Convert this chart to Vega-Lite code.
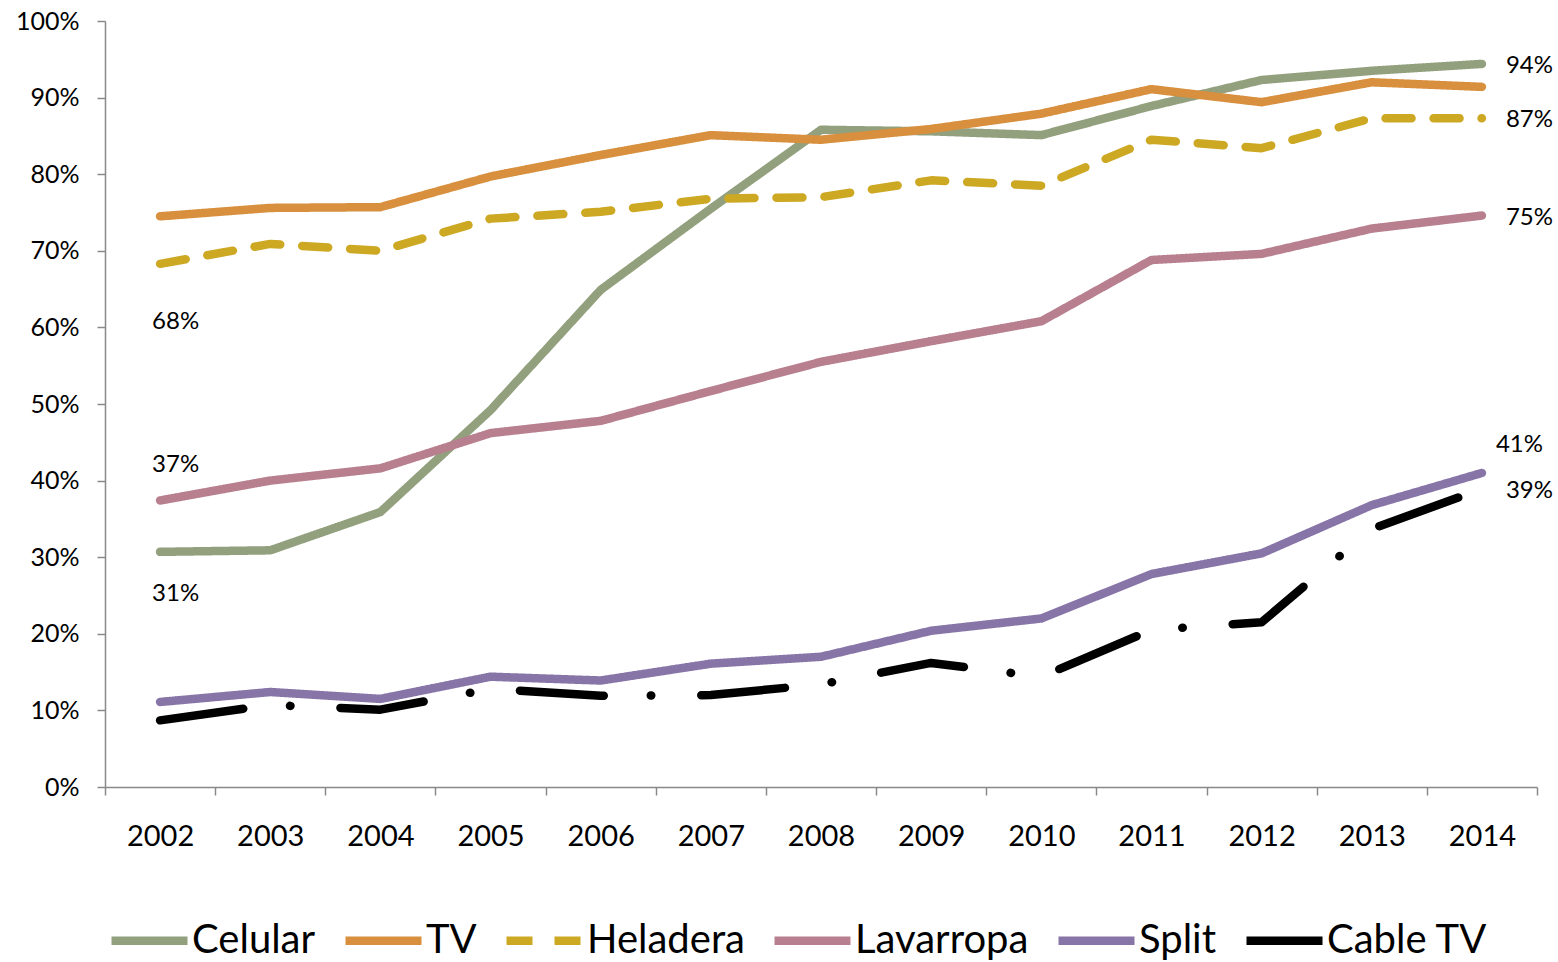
{
  "$schema": "https://vega.github.io/schema/vega-lite/v6.json",
  "width": 1432,
  "height": 766,
  "autosize": {"type": "none"},
  "padding": {"left": 105, "top": 21, "right": 21, "bottom": 175},
  "background": "white",
  "config": {"view": {"stroke": null}, "font": "Lato"},
  "datasets": {
    "series": [
      {"series": "Celular", "year": 2002, "value": 30.7},
      {"series": "Celular", "year": 2003, "value": 30.9},
      {"series": "Celular", "year": 2004, "value": 35.9},
      {"series": "Celular", "year": 2005, "value": 49.2},
      {"series": "Celular", "year": 2006, "value": 64.9},
      {"series": "Celular", "year": 2007, "value": 75.5},
      {"series": "Celular", "year": 2008, "value": 85.8},
      {"series": "Celular", "year": 2009, "value": 85.6},
      {"series": "Celular", "year": 2010, "value": 85.1},
      {"series": "Celular", "year": 2011, "value": 88.9},
      {"series": "Celular", "year": 2012, "value": 92.3},
      {"series": "Celular", "year": 2013, "value": 93.5},
      {"series": "Celular", "year": 2014, "value": 94.4},
      {"series": "TV", "year": 2002, "value": 74.5},
      {"series": "TV", "year": 2003, "value": 75.6},
      {"series": "TV", "year": 2004, "value": 75.7},
      {"series": "TV", "year": 2005, "value": 79.7},
      {"series": "TV", "year": 2006, "value": 82.5},
      {"series": "TV", "year": 2007, "value": 85.1},
      {"series": "TV", "year": 2008, "value": 84.5},
      {"series": "TV", "year": 2009, "value": 85.9},
      {"series": "TV", "year": 2010, "value": 87.9},
      {"series": "TV", "year": 2011, "value": 91.1},
      {"series": "TV", "year": 2012, "value": 89.4},
      {"series": "TV", "year": 2013, "value": 92.0},
      {"series": "TV", "year": 2014, "value": 91.4},
      {"series": "Heladera", "year": 2002, "value": 68.3},
      {"series": "Heladera", "year": 2003, "value": 70.9},
      {"series": "Heladera", "year": 2004, "value": 70.0},
      {"series": "Heladera", "year": 2005, "value": 74.2},
      {"series": "Heladera", "year": 2006, "value": 75.1},
      {"series": "Heladera", "year": 2007, "value": 76.8},
      {"series": "Heladera", "year": 2008, "value": 77.0},
      {"series": "Heladera", "year": 2009, "value": 79.2},
      {"series": "Heladera", "year": 2010, "value": 78.5},
      {"series": "Heladera", "year": 2011, "value": 84.5},
      {"series": "Heladera", "year": 2012, "value": 83.4},
      {"series": "Heladera", "year": 2013, "value": 87.3},
      {"series": "Heladera", "year": 2014, "value": 87.3},
      {"series": "Lavarropa", "year": 2002, "value": 37.4},
      {"series": "Lavarropa", "year": 2003, "value": 40.0},
      {"series": "Lavarropa", "year": 2004, "value": 41.6},
      {"series": "Lavarropa", "year": 2005, "value": 46.2},
      {"series": "Lavarropa", "year": 2006, "value": 47.8},
      {"series": "Lavarropa", "year": 2007, "value": 51.7},
      {"series": "Lavarropa", "year": 2008, "value": 55.5},
      {"series": "Lavarropa", "year": 2009, "value": 58.2},
      {"series": "Lavarropa", "year": 2010, "value": 60.8},
      {"series": "Lavarropa", "year": 2011, "value": 68.8},
      {"series": "Lavarropa", "year": 2012, "value": 69.6},
      {"series": "Lavarropa", "year": 2013, "value": 72.9},
      {"series": "Lavarropa", "year": 2014, "value": 74.6},
      {"series": "Split", "year": 2002, "value": 11.1},
      {"series": "Split", "year": 2003, "value": 12.4},
      {"series": "Split", "year": 2004, "value": 11.5},
      {"series": "Split", "year": 2005, "value": 14.4},
      {"series": "Split", "year": 2006, "value": 13.9},
      {"series": "Split", "year": 2007, "value": 16.1},
      {"series": "Split", "year": 2008, "value": 17.0},
      {"series": "Split", "year": 2009, "value": 20.4},
      {"series": "Split", "year": 2010, "value": 22.0},
      {"series": "Split", "year": 2011, "value": 27.8},
      {"series": "Split", "year": 2012, "value": 30.5},
      {"series": "Split", "year": 2013, "value": 36.8},
      {"series": "Split", "year": 2014, "value": 41.0},
      {"series": "Cable TV", "year": 2002, "value": 8.7},
      {"series": "Cable TV", "year": 2003, "value": 10.7},
      {"series": "Cable TV", "year": 2004, "value": 10.1},
      {"series": "Cable TV", "year": 2005, "value": 12.8},
      {"series": "Cable TV", "year": 2006, "value": 11.9},
      {"series": "Cable TV", "year": 2007, "value": 12.0},
      {"series": "Cable TV", "year": 2008, "value": 13.4},
      {"series": "Cable TV", "year": 2009, "value": 16.2},
      {"series": "Cable TV", "year": 2010, "value": 14.4},
      {"series": "Cable TV", "year": 2011, "value": 20.5},
      {"series": "Cable TV", "year": 2012, "value": 21.5},
      {"series": "Cable TV", "year": 2013, "value": 33.7},
      {"series": "Cable TV", "year": 2014, "value": 38.9}
    ],
    "labels": [
      {"series": "Celular", "year": 2014, "value": 94.4, "label": "94%"},
      {"series": "Heladera", "year": 2014, "value": 87.3, "label": "87%"},
      {"series": "Lavarropa", "year": 2014, "value": 74.6, "label": "75%"},
      {"series": "Cable TV", "year": 2014, "value": 38.9, "label": "39%"},
      {"series": "Split", "year": 2014, "value": 41.0, "label": "41%"},
      {"series": "Heladera", "year": 2002, "value": 68.3, "label": "68%"},
      {"series": "Lavarropa", "year": 2002, "value": 37.4, "label": "37%"},
      {"series": "Celular", "year": 2002, "value": 30.7, "label": "31%"}
    ]
  },
  "layer": [
    {
      "data": {"name": "series"},
      "mark": {"type": "line", "strokeWidth": 8.5, "strokeCap": "round", "strokeJoin": "round"},
      "encoding": {
        "x": {
          "field": "year",
          "type": "quantitative",
          "scale": {"domain": [2001.5, 2014.5], "nice": false, "zero": false},
          "axis": {
            "title": null,
            "grid": false,
            "values": [2001.5, 2002, 2002.5, 2003, 2003.5, 2004, 2004.5, 2005, 2005.5, 2006, 2006.5, 2007, 2007.5, 2008, 2008.5, 2009, 2009.5, 2010, 2010.5, 2011, 2011.5, 2012, 2012.5, 2013, 2013.5, 2014, 2014.5],
            "labelExpr": "datum.value % 1 === 0 ? '' + datum.value : ''",
            "labelOverlap": false,
            "labelFlush": false,
            "labelFontSize": 29,
            "labelFont": "Lato",
            "labelColor": "black",
            "labelPadding": 27,
            "tickSize": 8,
            "tickWidth": 1.5,
            "tickColor": "#898989",
            "tickOpacity": {"condition": {"test": "datum.value % 1 === 0", "value": 0}, "value": 1},
            "domainColor": "#898989",
            "domainWidth": 1.5
          }
        },
        "y": {
          "field": "value",
          "type": "quantitative",
          "scale": {"domain": [0, 100], "nice": false},
          "axis": {
            "title": null,
            "grid": false,
            "values": [0, 10, 20, 30, 40, 50, 60, 70, 80, 90, 100],
            "labelExpr": "datum.value + '%'",
            "labelFontSize": 25,
            "labelFont": "Lato",
            "labelColor": "black",
            "labelPadding": 18,
            "tickSize": 8,
            "tickWidth": 1.5,
            "tickColor": "#898989",
            "domainColor": "#898989",
            "domainWidth": 1.5
          }
        },
        "color": {
          "field": "series",
          "type": "nominal",
          "sort": ["Celular", "TV", "Heladera", "Lavarropa", "Split", "Cable TV"],
          "scale": {
            "domain": ["Celular", "TV", "Heladera", "Lavarropa", "Split", "Cable TV"],
            "range": ["#93A07E", "#D88F3E", "#CCA823", "#B87F8F", "#8875A8", "#000000"]
          },
          "legend": {
            "title": null,
            "orient": "none",
            "legendX": 2,
            "legendY": 877,
            "direction": "horizontal",
            "columns": 6,
            "padding": 0,
            "symbolType": "stroke",
            "symbolSize": 5776,
            "symbolStrokeWidth": 8.5,
            "labelFontSize": 40,
            "labelFont": "Lato",
            "labelColor": "black",
            "labelLimit": 0,
            "labelOffset": 0,
            "columnPadding": 12
          }
        },
        "strokeDash": {
          "field": "series",
          "type": "nominal",
          "sort": ["Celular", "TV", "Heladera", "Lavarropa", "Split", "Cable TV"],
          "scale": {
            "domain": ["Celular", "TV", "Heladera", "Lavarropa", "Split", "Cable TV"],
            "range": [[1, 0], [1, 0], [26, 22], [1, 0], [1, 0], [84, 47, 0.5, 50]]
          },
          "legend": {
            "title": null,
            "orient": "none",
            "legendX": 2,
            "legendY": 877,
            "direction": "horizontal",
            "columns": 6,
            "padding": 0,
            "symbolType": "stroke",
            "symbolSize": 5776,
            "symbolStrokeWidth": 8.5,
            "labelFontSize": 40,
            "labelFont": "Lato",
            "labelColor": "black",
            "labelLimit": 0,
            "labelOffset": 0,
            "columnPadding": 12
          }
        }
      }
    },
    {
      "data": {"name": "labels"},
      "transform": [{"filter": "indexof(['94%','87%','75%','39%'], datum.label) >= 0"}],
      "mark": {"type": "text", "align": "left", "baseline": "middle", "dx": 24, "dy": 2, "fontSize": 24, "font": "Lato", "color": "black"},
      "encoding": {
        "x": {"field": "year", "type": "quantitative"},
        "y": {"field": "value", "type": "quantitative"},
        "text": {"field": "label"}
      }
    },
    {
      "data": {"name": "labels"},
      "transform": [{"filter": "datum.label === '41%'"}],
      "mark": {"type": "text", "align": "left", "baseline": "middle", "dx": 14, "dy": -28, "fontSize": 24, "font": "Lato", "color": "black"},
      "encoding": {
        "x": {"field": "year", "type": "quantitative"},
        "y": {"field": "value", "type": "quantitative"},
        "text": {"field": "label"}
      }
    },
    {
      "data": {"name": "labels"},
      "transform": [{"filter": "datum.label === '68%'"}],
      "mark": {"type": "text", "align": "left", "baseline": "middle", "dx": -8, "dy": 58, "fontSize": 24, "font": "Lato", "color": "black"},
      "encoding": {
        "x": {"field": "year", "type": "quantitative"},
        "y": {"field": "value", "type": "quantitative"},
        "text": {"field": "label"}
      }
    },
    {
      "data": {"name": "labels"},
      "transform": [{"filter": "datum.label === '37%'"}],
      "mark": {"type": "text", "align": "left", "baseline": "middle", "dx": -8, "dy": -36, "fontSize": 24, "font": "Lato", "color": "black"},
      "encoding": {
        "x": {"field": "year", "type": "quantitative"},
        "y": {"field": "value", "type": "quantitative"},
        "text": {"field": "label"}
      }
    },
    {
      "data": {"name": "labels"},
      "transform": [{"filter": "datum.label === '31%'"}],
      "mark": {"type": "text", "align": "left", "baseline": "middle", "dx": -8, "dy": 42, "fontSize": 24, "font": "Lato", "color": "black"},
      "encoding": {
        "x": {"field": "year", "type": "quantitative"},
        "y": {"field": "value", "type": "quantitative"},
        "text": {"field": "label"}
      }
    }
  ]
}
